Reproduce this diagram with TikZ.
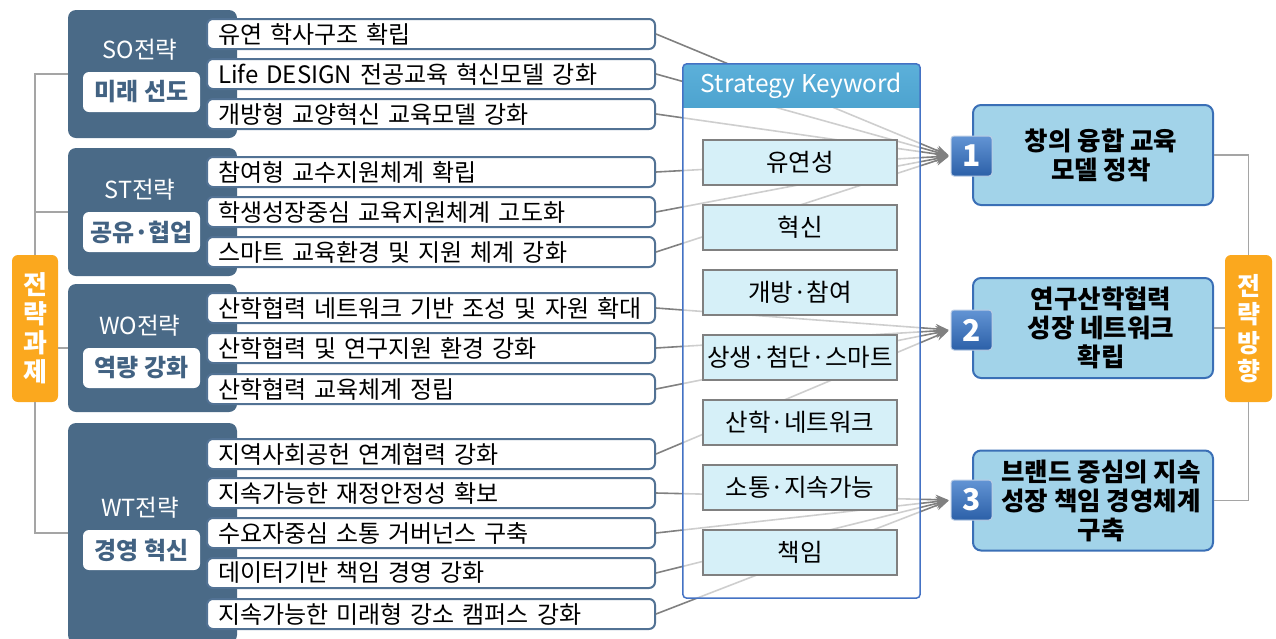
\documentclass[tikz,border=0pt]{standalone}
\usepackage{fontspec}
\setmainfont{Noto Sans CJK KR}
\usetikzlibrary{arrows.meta}

\definecolor{navybox}{RGB}{74,106,135}
\definecolor{itemline}{RGB}{82,114,148}
\definecolor{labeltxt}{RGB}{66,98,130}
\definecolor{orangebox}{RGB}{251,168,30}
\definecolor{kwhead}{RGB}{77,163,207}
\definecolor{kwframe}{RGB}{68,114,196}
\definecolor{kwfill}{RGB}{214,240,248}
\definecolor{goalfill}{RGB}{162,211,233}
\definecolor{goalline}{RGB}{58,111,182}
\definecolor{linkgray}{RGB}{128,128,128}
\definecolor{brkgray}{RGB}{165,165,165}

\tikzset{
  task/.style={fill=orangebox, rounded corners=6pt, minimum width=46pt, minimum height=147pt,
    inner sep=0pt, align=center, text=white, font=\fontsize{26}{29}\selectfont\bfseries},
  swot/.style={fill=navybox, rounded corners=8pt, minimum width=169pt, inner sep=0pt},
  swottitle/.style={inner sep=0pt, text=white, font=\fontsize{23.5}{26}\selectfont},
  swotlabel/.style={fill=white, rounded corners=6pt, minimum width=117pt, minimum height=40pt,
    inner sep=0pt, text=labeltxt, font=\fontsize{24}{26}\selectfont\bfseries},
  item/.style={draw=itemline, line width=2pt, fill=white, rounded corners=6pt, minimum height=30pt,
    text width=426pt, inner xsep=11pt, inner ysep=0pt, align=left, font=\fontsize{24}{26}\selectfont},
  kwpanel/.style={fill=white, fill opacity=0.62, minimum width=237pt, minimum height=534pt, inner sep=0pt},
  kwtitle/.style={inner sep=0pt, text=white, font=\fontsize{24.5}{26}\selectfont},
  keyword/.style={draw=linkgray, line width=1.2pt, fill=kwfill, minimum width=194pt, minimum height=45pt,
    inner sep=0pt, font=\fontsize{24.5}{26}\selectfont},
  goal/.style={draw=goalline, line width=2pt, fill=goalfill, rounded corners=8pt, minimum width=240pt,
    minimum height=100pt, inner sep=0pt},
  goaltext/.style={inner sep=0pt, align=center, xshift=8pt, font=\fontsize{25.5}{29}\selectfont\bfseries},
  num/.style={draw=white!65!goalline, line width=1pt, top color={rgb,255:red,98;green,148;blue,212},
    bottom color={rgb,255:red,44;green,96;blue,168}, rounded corners=3pt, minimum width=41pt,
    minimum height=40pt, inner sep=0pt, text=white, font=\fontsize{30}{30}\selectfont\bfseries},
  link/.style={draw=linkgray, line width=1.6pt, -{Stealth[length=13pt,width=10pt]}, shorten >=2pt},
  brk/.style={draw=brkgray, line width=1.5pt}
}

\begin{document}
\begin{tikzpicture}[x=1pt,y=-1pt]
\useasboundingbox (0,0) rectangle (1276,638);
\clip (0,0) rectangle (1276,638);

% strategy tasks
\node[task] (task) at (35,328.5) {전\\략\\과\\제};

\node[swot, minimum height=128pt] (so) at (152.5,74) {};
\node[swottitle] (sotitle) at (140,50) {SO전략};
\node[swotlabel] (solabel) at (141.5,92) {미래 선도};

\node[swot, minimum height=128pt] (st) at (152.5,212) {};
\node[swottitle] (sttitle) at (140,190) {ST전략};
\node[swotlabel] (stlabel) at (141.5,232) {공유·협업};

\node[swot, minimum height=128pt] (wo) at (152.5,348) {};
\node[swottitle] (wotitle) at (140,326) {WO전략};
\node[swotlabel] (wolabel) at (141.5,368) {역량 강화};

\node[swot, minimum height=220pt] (wt) at (152.5,533) {};
\node[swottitle] (wttitle) at (140,508) {WT전략};
\node[swotlabel] (wtlabel) at (141.5,550) {경영 혁신};

\node[item] (so1) at (431,34) {유연 학사구조 확립};
\node[item] (so2) at (431,74) {Life DESIGN 전공교육 혁신모델 강화};
\node[item] (so3) at (431,114) {개방형 교양혁신 교육모델 강화};
\node[item] (st1) at (431,172) {참여형 교수지원체계 확립};
\node[item] (st2) at (431,212) {학생성장중심 교육지원체계 고도화};
\node[item] (st3) at (431,252) {스마트 교육환경 및 지원 체계 강화};
\node[item] (wo1) at (431,308) {산학협력 네트워크 기반 조성 및 자원 확대};
\node[item] (wo2) at (431,348) {산학협력 및 연구지원 환경 강화};
\node[item] (wo3) at (431,389) {산학협력 교육체계 정립};
\node[item] (wt1) at (431,454) {지역사회공헌 연계협력 강화};
\node[item] (wt2) at (431,493) {지속가능한 재정안정성 확보};
\node[item] (wt3) at (431,533) {수요자중심 소통 거버넌스 구축};
\node[item] (wt4) at (431,573) {데이터기반 책임 경영 강화};
\node[item] (wt5) at (431,614) {지속가능한 미래형 강소 캠퍼스 강화};

\draw[brk] (so.west) -| (task.north);
\draw[brk] (st.west) -| (task.north);
\draw[brk] (wo.west) -- (wo.west -| task.east);
\draw[brk] (wt.west) -| (task.south);

% strategy directions
\node[goal, label={[goaltext]center:창의 융합 교육\\모델 정착}] (g1) at (1093,155) {};
\node[goal, label={[goaltext]center:연구산학협력\\성장 네트워크\\확립}] (g2) at (1093,328) {};
\node[goal, label={[goaltext]center:브랜드 중심의 지속\\성장 책임 경영체계\\구축}] (g3) at (1093,500.5) {};
\node[num] (n1) at (971.5,156) {1};
\node[num] (n2) at (971.5,330) {2};
\node[num] (n3) at (971.5,500) {3};
\node[task, minimum width=47pt, font=\fontsize{25}{28.5}\selectfont\bfseries] (dir) at (1248.5,328.5) {전\\략\\방\\향};

\draw[brk] (g1.east) -| (dir.north);
\draw[brk] (g2.east) -- (g2.east -| dir.west);
\draw[brk] (g3.east) -| (dir.south);

\draw[link] (so1.east) -- (n1.west);
\draw[link] (so2.east) -- (n1.west);
\draw[link] (so3.east) -- (n1.west);
\draw[link] (st1.east) -- (n1.west);
\draw[link] (st2.east) -- (n1.west);
\draw[link] (st3.east) -- (n1.west);
\draw[link] (wo1.east) -- (n2.west);
\draw[link] (wo2.east) -- (n2.west);
\draw[link] (wo3.east) -- (n2.west);
\draw[link] (wt1.east) -- (n2.west);
\draw[link] (wt2.east) -- (n3.west);
\draw[link] (wt3.east) -- (n3.west);
\draw[link] (wt4.east) -- (n3.west);
\draw[link] (wt5.east) -- (n3.west);

% keyword panel
\node[kwpanel] (kw) at (801.5,331) {};
\begin{scope}
\clip[rounded corners=4pt] (kw.north west) rectangle (kw.south east);
\shade[top color={rgb,255:red,92;green,176;blue,218}, bottom color=kwhead] (kw.north west) rectangle ([yshift=-44pt]kw.north east);
\end{scope}
\draw[kwframe, line width=1.5pt, rounded corners=4pt] (kw.north west) rectangle (kw.south east);
\node[kwtitle] (kwtitle) at (801.5,86) {Strategy Keyword};

\node[keyword] (k1) at (800,162.5) {유연성};
\node[keyword] (k2) at (800,227.5) {혁신};
\node[keyword] (k3) at (800,292.5) {개방·참여};
\node[keyword] (k4) at (800,357.5) {상생·첨단·스마트};
\node[keyword] (k5) at (800,422.5) {산학·네트워크};
\node[keyword] (k6) at (800,487.5) {소통·지속가능};
\node[keyword] (k7) at (800,552.5) {책임};

\end{tikzpicture}
\end{document}
